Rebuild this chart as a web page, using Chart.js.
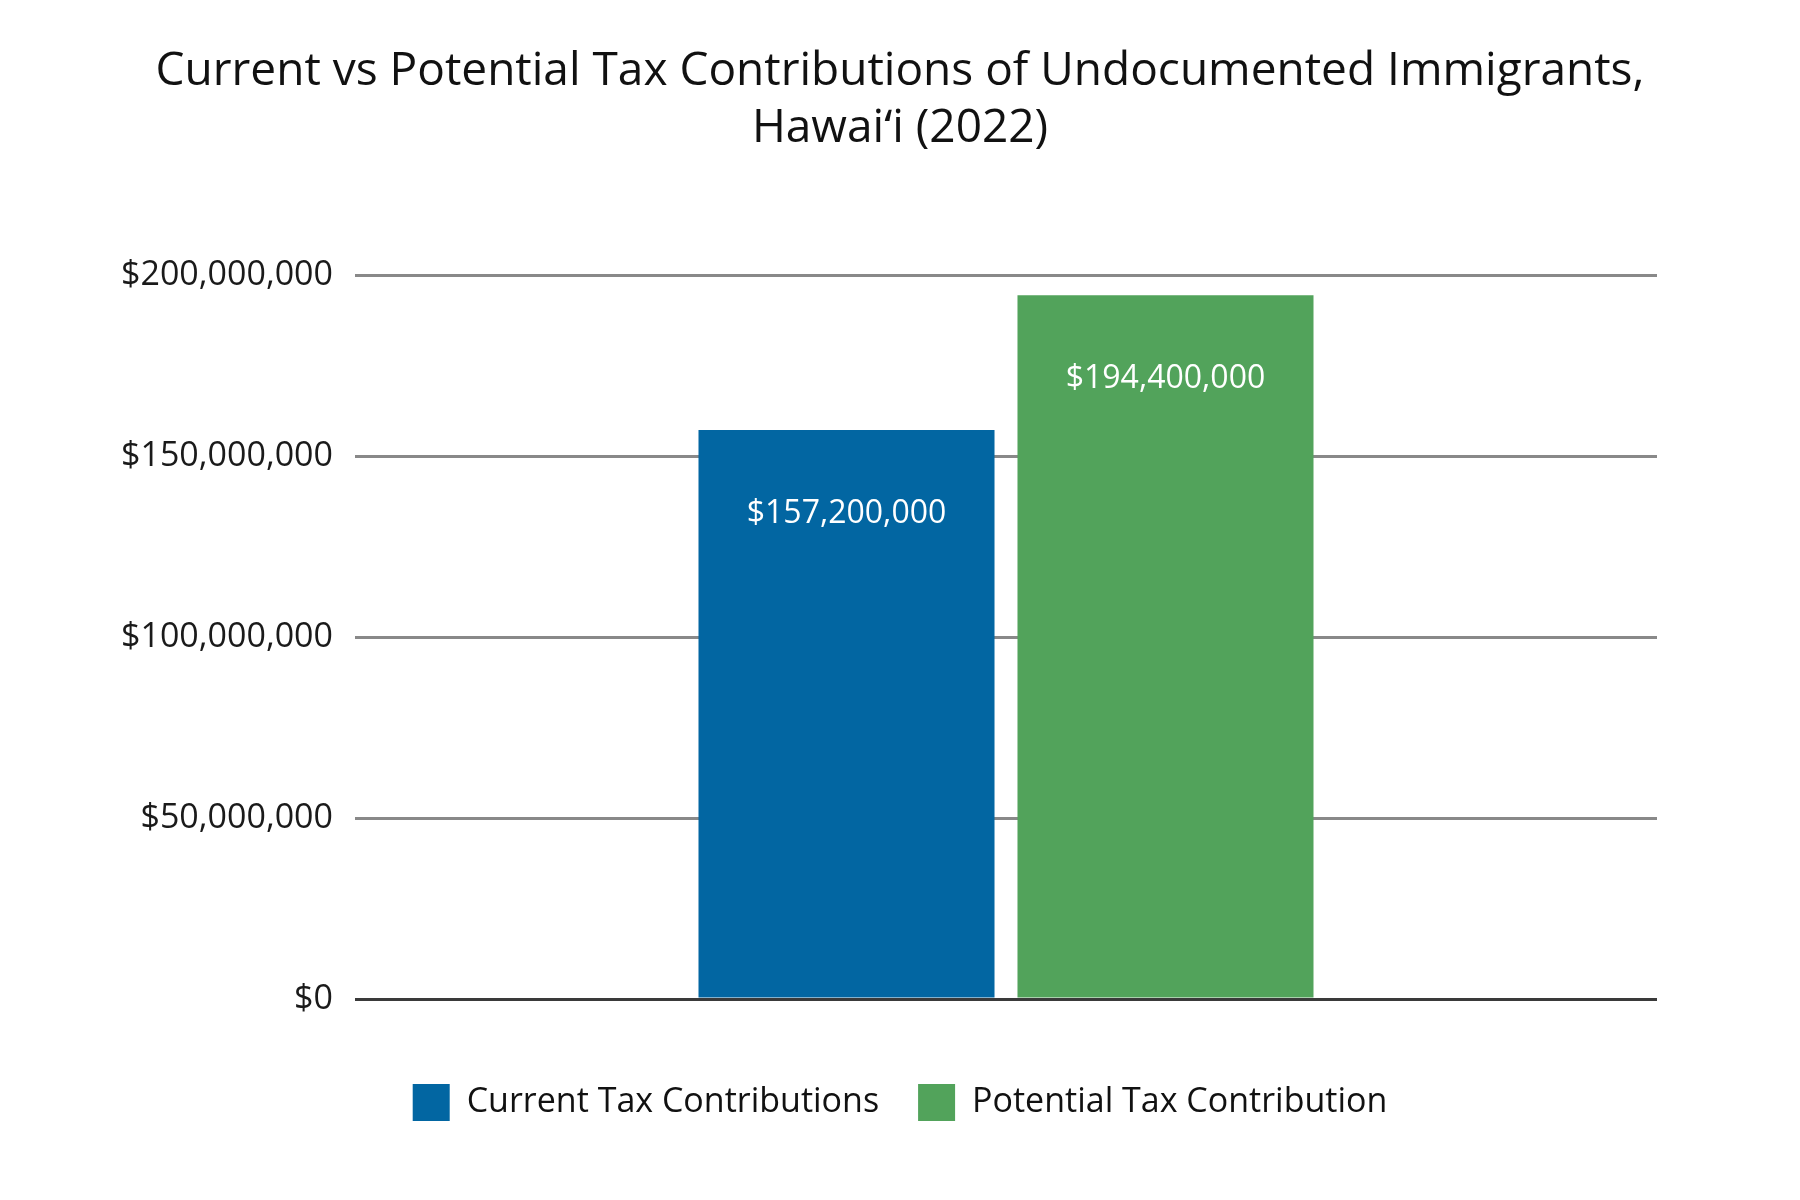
<!DOCTYPE html>
<html>
<head>
<meta charset="utf-8">
<script src="https://cdn.jsdelivr.net/npm/chart.js@4.4.1/dist/chart.umd.min.js"></script>
<style>
  html, body { margin: 0; padding: 0; background: #fff; }
  canvas { display: block; }
</style>
</head>
<body>
<canvas id="taxChart" width="1800" height="1200"></canvas>
<script>
// data
const categories = [""];
const seriesNames = ["Current Tax Contributions", "Potential Tax Contribution"];
const currentTax = [157200000];
const potentialTax = [194400000];
const titleLines = ["Current vs Potential Tax Contributions of Undocumented Immigrants,", "Hawaiʻi (2022)"];

const blue = "#0266a2";
const green = "#52a35b";
const font = "'Open Sans', 'Noto Sans', sans-serif";

function money(v) {
  return "$" + Number(v).toLocaleString("en-US");
}

// value text inside the top of every bar
const barLabels = {
  id: "barLabels",
  afterDatasetsDraw(chart) {
    const ctx = chart.ctx;
    ctx.save();
    ctx.fillStyle = "#ffffff";
    ctx.font = "32px " + font;
    ctx.textAlign = "center";
    ctx.textBaseline = "middle";
    chart.data.datasets.forEach((ds, i) => {
      chart.getDatasetMeta(i).data.forEach((bar, j) => {
        ctx.fillText(money(ds.data[j]), bar.x, bar.y + 84);
      });
    });
    ctx.restore();
  }
};

new Chart(document.getElementById("taxChart"), {
  type: "bar",
  data: {
    labels: categories,
    datasets: [
      {
        label: seriesNames[0],
        data: currentTax,
        backgroundColor: blue,
        categoryPercentage: 0.49,
        barPercentage: 0.928
      },
      {
        label: seriesNames[1],
        data: potentialTax,
        backgroundColor: green,
        categoryPercentage: 0.49,
        barPercentage: 0.928
      }
    ]
  },
  options: {
    responsive: false,
    animation: false,
    layout: {
      padding: { top: 0, right: 0, bottom: 69, left: 0 }
    },
    scales: {
      x: {
        grid: { display: false },
        border: { display: false },
        ticks: { display: false },
        afterFit: (scale) => { scale.height = 46; }
      },
      y: {
        min: 0,
        max: 200000000,
        ticks: {
          stepSize: 50000000,
          padding: 22,
          color: "#1a1a1a",
          font: { family: font, size: 34 },
          callback: (v) => money(v)
        },
        grid: {
          drawTicks: false,
          lineWidth: 3,
          color: (c) => (c.tick && c.tick.value === 0 ? "#3a3a3a" : "#898989")
        },
        border: { display: false },
        afterFit: (scale) => { scale.width = 355; }
      },
      // empty right axis: just keeps the plot off the right edge
      // while title and legend stay centred on the whole page
      yRight: {
        position: "right",
        grid: { display: false },
        border: { display: false },
        ticks: { display: false },
        afterFit: (scale) => { scale.width = 143; }
      }
    },
    plugins: {
      title: {
        display: true,
        text: titleLines,
        color: "#111111",
        font: { family: font, size: 46, weight: "normal", lineHeight: 1.24 },
        padding: { top: 43, bottom: 118 }
      },
      legend: {
        position: "bottom",
        labels: {
          boxWidth: 37,
          boxHeight: 37,
          padding: 39,
          color: "#111111",
          font: { family: font, size: 34 }
        }
      },
      tooltip: { enabled: false }
    }
  },
  plugins: [barLabels]
});
</script>
</body>
</html>
